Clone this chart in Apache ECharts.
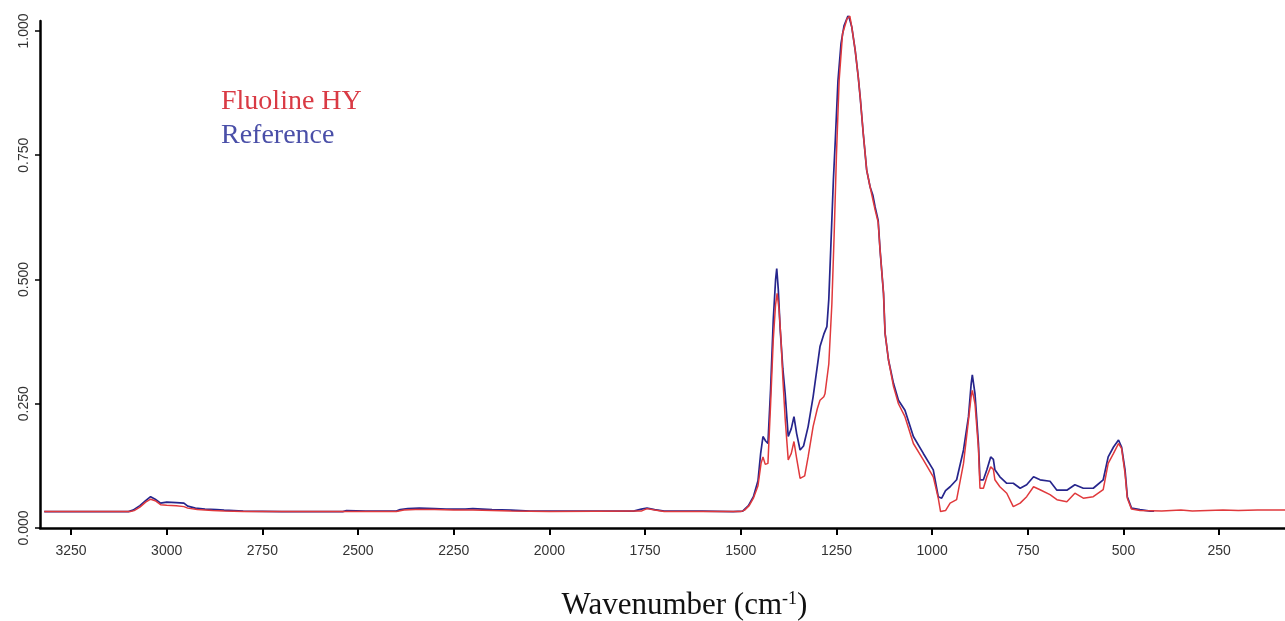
<!DOCTYPE html>
<html>
<head>
<meta charset="utf-8">
<script src="https://cdn.jsdelivr.net/npm/echarts@6/dist/echarts.min.js"></script>
<style>
html,body{margin:0;padding:0;background:#fff;}
#chart{width:1285px;height:621px;}
</style>
</head>
<body>
<div id="chart"></div>
<script>
// Reference spectrum (blue)
const refWavenumber = [3320,3100,3088,3070,3055,3042,3030,3016,3000,2975,2955,2945,2925,2900,2870,2850,2800,2700,2540,2530,2480,2400,2390,2370,2340,2300,2270,2220,2200,2150,2100,2050,2000,1780,1760,1745,1725,1700,1600,1520,1495,1480,1467,1455,1448,1442,1435,1429,1422,1415,1409,1406,1402,1397,1390,1384,1376,1368,1361,1354,1345,1336,1324,1311,1293,1283,1275,1270,1264,1258,1253,1246,1238,1230,1220,1216,1210,1201,1193,1188,1180,1171,1162,1155,1149,1141,1136,1127,1123,1114,1101,1088,1071,1049,1023,997,984,975,965,953,936,918,905,898,895,888,879,875,866,857,847,840,836,823,805,788,770,753,735,718,692,674,648,627,605,579,553,540,526,513,505,496,490,479,457,430,420];
const refAbsorbance = [0.033,0.033,0.036,0.045,0.055,0.063,0.058,0.050,0.052,0.051,0.050,0.044,0.040,0.038,0.037,0.036,0.034,0.033,0.033,0.035,0.034,0.034,0.037,0.039,0.040,0.039,0.038,0.038,0.039,0.037,0.036,0.034,0.034,0.034,0.038,0.040,0.037,0.034,0.034,0.033,0.034,0.045,0.063,0.095,0.150,0.184,0.175,0.170,0.280,0.420,0.500,0.522,0.480,0.400,0.320,0.270,0.184,0.200,0.224,0.190,0.157,0.165,0.204,0.264,0.365,0.390,0.405,0.460,0.580,0.700,0.780,0.900,0.975,1.011,1.030,1.025,1.008,0.961,0.907,0.867,0.794,0.720,0.686,0.670,0.646,0.619,0.559,0.472,0.392,0.338,0.291,0.257,0.237,0.184,0.150,0.117,0.063,0.060,0.075,0.083,0.097,0.157,0.224,0.290,0.308,0.270,0.170,0.097,0.097,0.117,0.143,0.138,0.117,0.103,0.090,0.090,0.080,0.087,0.103,0.097,0.094,0.076,0.076,0.087,0.080,0.080,0.097,0.143,0.163,0.177,0.163,0.117,0.063,0.040,0.037,0.034,0.034];

// Fluoline HY spectrum (red)
const hyWavenumber = [3320,3095,3085,3070,3055,3042,3030,3016,3000,2975,2955,2945,2920,2880,2850,2800,2540,2500,2400,2380,2350,2300,2250,2200,2150,2100,2000,1760,1745,1725,1700,1500,1490,1478,1467,1455,1447,1442,1436,1429,1422,1415,1409,1405,1400,1395,1390,1384,1376,1368,1361,1354,1345,1340,1333,1324,1311,1300,1293,1283,1280,1270,1262,1256,1250,1243,1234,1222,1215,1210,1201,1193,1188,1180,1171,1162,1149,1141,1136,1127,1123,1114,1101,1088,1071,1049,1023,997,984,978,965,953,936,918,905,898,895,888,879,875,866,857,847,840,836,823,805,788,770,753,735,718,692,674,648,627,605,579,553,540,526,513,505,496,490,479,457,400,350,320,280,240,200,150,78];
const hyAbsorbance = [0.033,0.033,0.035,0.042,0.052,0.058,0.055,0.047,0.046,0.045,0.043,0.040,0.037,0.035,0.034,0.033,0.033,0.033,0.033,0.036,0.037,0.037,0.036,0.036,0.035,0.034,0.033,0.034,0.039,0.036,0.033,0.033,0.036,0.045,0.060,0.085,0.130,0.143,0.128,0.130,0.250,0.380,0.450,0.472,0.440,0.380,0.300,0.220,0.137,0.150,0.174,0.140,0.100,0.097,0.105,0.143,0.204,0.240,0.257,0.264,0.270,0.330,0.450,0.590,0.750,0.900,0.995,1.025,1.030,1.008,0.961,0.907,0.867,0.794,0.720,0.686,0.640,0.615,0.559,0.472,0.392,0.338,0.285,0.250,0.224,0.170,0.137,0.103,0.060,0.033,0.035,0.050,0.057,0.130,0.217,0.265,0.277,0.250,0.160,0.080,0.080,0.103,0.123,0.118,0.097,0.083,0.070,0.043,0.050,0.063,0.083,0.077,0.067,0.057,0.053,0.070,0.060,0.063,0.077,0.130,0.150,0.170,0.160,0.110,0.060,0.038,0.035,0.034,0.036,0.034,0.035,0.036,0.035,0.036,0.036];

const xTicks = [3250,3000,2750,2500,2250,2000,1750,1500,1250,1000,750,500,250];
const yTicks = [0,0.25,0.5,0.75,1.0];

const seriesNames = ['Fluoline HY','Reference'];
const seriesColors = ['#e0393c','#26258c'];
const legendColors = ['#d93a44','#4a4fa8'];

function pairs(xs, ys){ return xs.map((x,i)=>[x, ys[i]]); }

const chart = echarts.init(document.getElementById('chart'), null, {renderer:'canvas'});
chart.setOption({
  animation:false,
  backgroundColor:'#ffffff',
  grid:{left:40,right:0,top:21,bottom:93,containLabel:false,outerBoundsMode:'none'},
  legend:{
    orient:'vertical', left:211, top:83, itemGap:6,
    itemWidth:0, itemHeight:0, icon:'rect',
    data: seriesNames.map((n,i)=>({name:n, textStyle:{color:legendColors[i]}})),
    textStyle:{fontFamily:'Liberation Serif', fontSize:28}
  },
  xAxis:{
    type:'value', inverse:true, min:78, max:3331,
    splitLine:{show:false},
    axisLine:{show:true, onZero:false, lineStyle:{color:'#000', width:2.5}},
    axisTick:{show:true, length:7, lineStyle:{color:'#000', width:2}, customValues:xTicks},
    axisLabel:{customValues:xTicks, color:'#333', fontFamily:'Liberation Sans', fontSize:14, margin:16,
      formatter:v=>String(v)},
    name:'{a|Wavenumber (cm}{s|-1}{a|)}',
    nameLocation:'middle', nameGap:62,
    nameTextStyle:{padding:[0,0,0,44], rich:{
      a:{fontFamily:'Liberation Serif', fontSize:31, color:'#111'},
      s:{fontFamily:'Liberation Serif', fontSize:18, color:'#111', verticalAlign:'top'}
    }}
  },
  yAxis:{
    type:'value', min:0, max:1.02,
    splitLine:{show:false},
    axisLine:{show:true, lineStyle:{color:'#000', width:2.5}},
    axisTick:{show:true, length:5, lineStyle:{color:'#000', width:1.5}, customValues:yTicks},
    axisLabel:{customValues:yTicks, rotate:90, color:'#333', fontFamily:'Liberation Sans', fontSize:14, margin:9,
      formatter:v=>v.toFixed(3)}
  },
  series:[
    {name:'Reference', type:'line', data:pairs(refWavenumber, refAbsorbance), showSymbol:false, clip:false,
      lineStyle:{color:seriesColors[1], width:1.7}, itemStyle:{color:seriesColors[1]}, z:2},
    {name:'Fluoline HY', type:'line', data:pairs(hyWavenumber, hyAbsorbance), showSymbol:false, clip:false,
      lineStyle:{color:seriesColors[0], width:1.5}, itemStyle:{color:seriesColors[0]}, z:3}
  ]
});
</script>
</body>
</html>
